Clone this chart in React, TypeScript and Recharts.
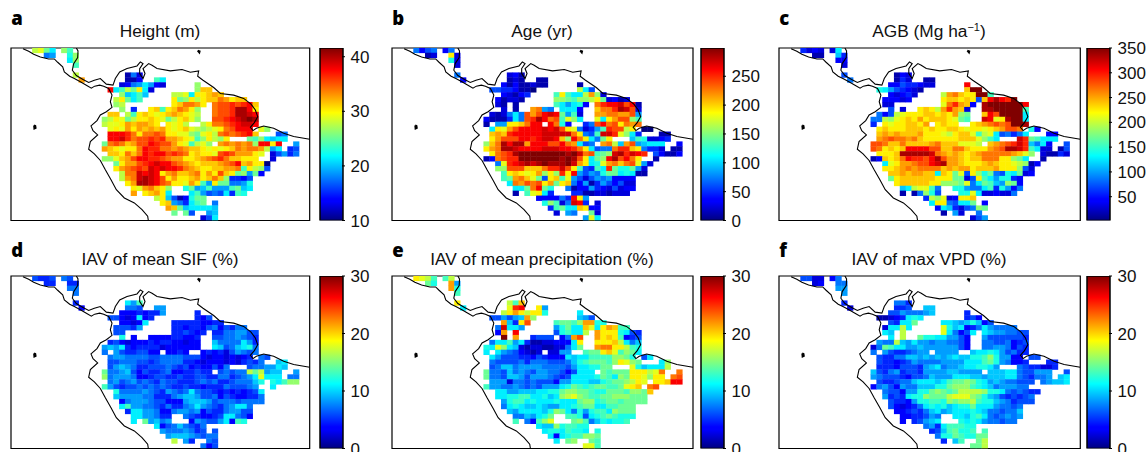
import React from "react";
import { ScatterChart, Scatter, XAxis, YAxis, ReferenceArea, BarChart, Bar } from "recharts";

// Rows of the grid, north to south. "col:letters": a = bottom of colour scale, z = top, . = no data
const heightRows = ["0:opmj 5:nl","2:gh 6:kn","6:j 7:n","7:l","","7:o 16:bgc","8:s 16:bbd 21:lj","15:cdghjhdc 28:n","13:wjlomqjc 28:nrr","15:nijli 24:oopjqqrsr","14:oqmjl 24:qmnqoqrrtsq 35:rr","14:no 24:qrttsq 31:tuuvuvwr","15:n 17:e 20:qrlqrtsqn 31:tuuvyywq","13:rr.olqrqpqrsrqpo 31:tuuvyyxw","12:noqpmoqqrqpmoqrpn 31:uuvwxyzy","12:oppqsrssrq 23:qpqo 29:oqttuvwxxw","13:pqpsqsrsrsqpqrponopqtuwww 39:pn","13:wwwvtqttutqqppnmpqotutuvwr 42:fg","13:wwxvtuuvuvssrqplnqonq 37:mlnjijj","12:mtutrsuuwvuusqplopn 32:stststnwwqw 45:h","12:srqpqqtwvvttstsrrqpqpqrtsttsohj 44:ef","13:rrqtrtwvwwuvutqrqqpuvusssqp 41:cfh 44:eg","12:nnprsuwwvvutssqqrstuvtrrqqq 41:c","14:mqssuvwxwwutsrqrrrstuwrsqqa","14:qstuvuxwxwwvtsrqqrrsstlqonf","15:ottxwxwqstrrstqsqurqmnhmd","15:ostxyxwuqsqqrsqrtrneedf","16:qsyyxwutqqpsqlhqmmgghk","17:qpstrqn 26:kmhilhhhlmij","17:s 19:qrsqj 27:jlhfgfjelk","21:oqifbdkmm","22:qrhgejlm 31:g","23:srmijjjji","24:m 26:mf 30:hi","29:cfj"];
const ageRows = ["0:gdfg 5:dg","2:bc 6:qc","6:kc","7:c","","7:g 16:cdb","8:d 16:bcb 21:bb","15:dbdbbcbb 28:b","13:ffeedbba 28:ojf","15:dcbde 24:lqljjosnc","14:dbccb 24:nnmlnnoqmcd 35:bc","14:cb 17:b 24:ljhjkd 31:tvwwxuwb","15:c 17:b 20:sthg.jjjd 31:rttvyxuc","13:cbcgjgusuwxwmhlc 31:ssttssuh","12:dbbbejguvywtulpnj 31:pjqsuunl","12:b.hhqqrtww 23:wtkd 29:eguwtuqtst","13:jqpsuwwwwxwxuqpgcehlvuuoq 39:aa","13:rsrvwwwwwxxxxxtqgflxxvpnje 42:bb","13:qsuuuwwvwxxwrnwtqjgmq 37:ilkccde","12:nrtywyyswwwuuwtsjfg 32:stoisuhijjj 45:d","12:qstyyxwwwwxxxwwvtqjfggtvvrqgeec 44:bb","13:qtuvyzzzzzzzzyzxtulmnxyvxwv 41:fdb 44:bd","12:bdtuvvzzzzzzzyzyuqjmnwyuwtq 41:b","14:gpvwxyxyzyyyzxsqjkpstrtuphc","14:nnuuurrrtvvxuqlfeljvmkkmhc","15:lqrqpqsnqnvqwhfhgkmmjkjbb","15:lmstrpmfqrlphfcfhghdddd","16:jtsutuqsmqrgdhbehfdfcc","17:jjmtwmk 26:gbddhedcfcdd","17:b 19:lpqje 27:eebbccbccc","21:ddddgewqh","22:knlcgxwe 31:c","23:elmjjrqdd","24:c 26:hg 30:mc","29:hpj"];
const agbRows = ["0:ecdc 5:cj","2:bb 6:ie","6:dd","7:c","","7:f 16:bdc","8:g 16:bec 21:bb","15:ddfeedcc 28:w","13:kjhfedcb 28:rzz","15:dcdec 24:ostrqqzzl","14:dddcd 24:qrrqrqfrwyw 35:vz","14:cc 24:ptvsrd 31:yzzzzzzw","15:f 17:c 20:qrqosvsrc 31:yyzzzzzl","13:gdfopqqqrrqrqsnm 31:rwuzzzzj","12:ggonpqrqsqrrrqpml 31:xwpqyzzj","12:e.qpqqrrqs 23:qrqq 29:qrstutuzzy","13:qrqqqrrrqrqqrrqpqqpqrsuut 39:kd","13:rsrsrrrsqqqpoqrrplopjfgegj 42:dd","13:stuttstrqqqqqqrrrpnlj 37:xvmljjj","12:uutrrtrrrrstrrrpppo 32:rstuvxvigjd 45:f","12:utqrqrwwwwuurrttrqqqstuyyxvljcc 44:bf","13:qqqryyyyyxtsrsrqrstttttsrpn 41:cbb 44:ec","12:bdrqrtwvvuwyussrqrrtttqqnmj 41:b","14:jpqsstuuwxyssrqqqrsrqqponbd","14:qqrststtttrsrssqrrrsqqqnfc","15:rrsrssrrjrqmpfqnkmgfkjmcd","15:mqrrrrrrqqqmmcfqljhkked","16:qrrrrrqqnnnmpgjmlihnmd","17:ijopplg 26:kkhggjlekhdg","17:b 19:bgnkf 27:kkpjccdccg","21:eonpcdqqr","22:jqqgfjjm 31:d","23:djiecfgnm","24:b 26:hc 30:g","29:cfh"];
const sifRows = ["0:feef 5:gf","2:ee 6:ee","6:gg","7:g","","7:e 16:jhl","8:d 16:ggf 21:hh","15:dddedeeh 28:e","13:ffdcdjde 28:edf","15:ddcdj 24:eeeeeddee","14:fffeh 24:eedeedfgdfe 35:gg","14:ff 24:eefede 31:eegghhff","15:k 17:d 20:ddddeedde 31:ffgghgfe","13:efdcdddedeeddcdd 31:iggggjhe","12:hihjedeeeecdddddd 31:jifgijkg","12:g.hfeeffdd 23:dded 29:dedecfhgfg","13:ghhggggffggggfffdcddcdcde 39:gf","13:ffgggffefggggeedcdddcdcefeg 42:ij","13:fhihgeefffgfefdeddfdg 37:fgghhji","12:mgghifdfeefgddeefee 32:fgfggomohii 45:h","12:nghhhgddeffeefeeffeeggefghjpjjj 44:gg","13:ghfghfgfegffeeefgfgeefgggik 41:kjl 44:nn","12:lhfeffgfgfgfeefeedeeegfffgh 41:j","14:kgggghgfehgfgjgffedededefj","14:ihhhhggeeeghiihffgdfeddeeg","15:dghhhgffdddhiiihfgggfgggg","15:jlhhggfegeeghjhgfeghjjg","16:ejjhhgddghhghdfeeghhff","17:jjhhgee 26:gfeddefjjgfd","17:j 19:mhigh 27:dhgffhjdlk","21:jdfgigfeg","22:hggghgef 31:f","23:hiiihgfgg","24:o 26:he 30:gf","29:gdf"];
const precipRows = ["0:qpol 5:lo","2:mk 6:sh","6:sk","7:l","","7:q 16:olr","8:j 16:pvw 21:qh","15:oqsqoqqk 28:j","13:ffhfhisn 28:ihf","15:siequ 24:lmmlnsskk","14:gxjjh 24:hkmjjrpjqsr 35:ll","14:ds 17:w 24:fkljjo 31:sqqqkjfe","15:z 17:s 20:efff.dgsu 31:sqrqldef","13:gjjlhjebbccdddjq 31:qqqrojgi","12:kjpnjicbccbbccgjm 31:sttqqolk","12:j.jhgfdcbc 23:cchh 29:lmmqrplnmj","13:jhfffeedfedddjijjllllnnmk 39:fj","13:gffffgegggfffgiklmmmlnqpnm 42:jn","13:fgiighhhhggggfhjjkkmm 37:pkijjjo","12:mggfighgfhhggfdfjjj 32:mlmmmqqqopt 45:t","12:mggfiihfhhhgfefjjjjkmljnmqqpnqq 44:tu","13:hhhcggfgfffdhhjjjiiklmmnoqp 41:qqr 44:ww","12:lhhgghgfgfhhhjkmlklmmllmpqr 40:tu","14:jjhhiiijjkkmnnmmlkkmmmlnnmr","14:jjkklljjkijnopnmllmmnnnmmm","15:hklljkjjjkjjjmnnklmmlmmmm","15:gjkjiijihhjjklmmjjllmmm","16:ihjjjjiknmjgkhklljnmmm","17:ggihjkm 26:llkfjklmlkkk","17:l 19:gdlnp 27:mnlgikjkkl","21:jiinkllkk","22:jkkjlkkj 31:k","23:jdjkllnnm","24:j 26:mn 30:ml","29:ppl"];
const vpdRows = ["0:ffcc 5:dg","2:cd 6:gg","6:hh","7:h","","7:e 16:gge","8:c 16:eef 21:ii","15:ffhggghi 28:e","13:bbcdejkj 28:efd","15:fejjm 24:jjihikidf","14:cjjjj 17:o 24:pkijdegjhgg 35:gg","14:ji 17:o 24:pjgdfj 31:jihhggff","15:j 17:o 20:mkkjjhhfd 31:hffffffe","13:hggoihjhhghhggfd 31:ggffgdef","12:cgmljjhhihhhhhhfd 31:gghhgdfe","12:g.hfeefghh 23:hhhh 29:ijjkjhfgee","13:feeggiihihihijiikklnkhhdd 39:ff","13:feedefhgggghhhhjjjlmkhgdde 42:ee","13:eeedfffehijghhijjkkjh 37:gfeecce","12:ifegheffehhhhiihhhh 32:iiijjgffhhh 45:f","12:hgfffedffgihhhjjjiihiiijjgfeggh 44:ij","13:feefggijjjijlmmnmkjhihggfff 41:ghi 44:ij","12:dghfdhggiiikkmnnnlkjighhhgg","14:gffdhhkkmnmlmoooonkkjgfgfee","14:hefejkknmmmopppnmkihfefefg","15:feedhkkllknmnnolkkihgefff","15:fdcdegjkjkijkkmjjjhggfg","16:ddefegijhijjjkjiggfggi","17:ddeefhg 26:jjikljgfghgh","17:d 19:efhij 27:kjkjhggfgg","21:ghejlllkk","22:efilmkkl 31:l","23:gkkmlkkmm","24:e 26:il 30:mo","29:mmo"];

const pacificCoast = [[68,145],[85,153],[100,162],[120,170],[145,176],[162,176],[172,186],[187,200],[192,215],[208,228],[222,235],[240,245],[258,255],[273,264],[283,258],[298,255],[310,258],[325,265],[335,285],[330,305],[335,322],[318,335],[300,345],[290,362],[272,378],[278,392],[292,405],[270,425],[265,448],[282,462],[300,482],[315,510],[332,540],[348,570],[372,595],[402,610],[425,630],[442,650],[444,663]];
const atlanticCoast = [[228,143],[233,152],[232,172],[220,190],[216,210],[228,226],[248,238],[265,247],[282,240],[300,235],[318,252],[338,255],[345,235],[358,215],[380,205],[410,197],[420,185],[428,190],[418,205],[418,220],[428,235],[434,220],[428,205],[445,190],[455,195],[470,205],[510,212],[545,208],[570,216],[595,212],[592,228],[608,240],[640,262],[660,280],[700,285],[730,295],[752,312],[765,330],[772,350],[762,368],[750,382],[758,392],[768,385],[790,378],[820,385],[850,400],[880,410],[928,418]];
const galapagos = [[101,376],[105,378],[106,384],[102,386],[101,376]];
const islet = [[592,151],[598,153],[597,157],[592,151]];

const LEFT = 32, RIGHT = 928, TOP = 143, BOTTOM = 663;
const GRID_X = 96, GRID_Y = 143, CELL_W = 17.4, CELL_H = 14.85;

const jetStops: [number, number[]][] = [[0,[0,0,128]],[0.11,[0,0,255]],[0.125,[0,0,255]],[0.375,[0,255,255]],[0.625,[255,255,0]],[0.875,[255,0,0]],[1,[128,0,0]]];
function jet(t: number) {
  for (let i = 1; i < jetStops.length; i++) {
    const [p1, c1] = jetStops[i];
    const [p0, c0] = jetStops[i - 1];
    if (t <= p1) {
      const k = (t - p0) / (p1 - p0);
      return `rgb(${c0.map((c, j) => Math.round(c + (c1[j] - c) * k)).join(",")})`;
    }
  }
  return "rgb(128,0,0)";
}

function cells(rows: string[], min: number, max: number) {
  const out: { x: number; y: number; value: number }[] = [];
  rows.forEach((row, r) => {
    row.split(" ").filter(Boolean).forEach((seg) => {
      const [start, letters] = seg.split(":");
      letters.split("").forEach((ch, i) => {
        if (ch === ".") return;
        const t = (ch.charCodeAt(0) - 97) / 25;
        out.push({
          x: GRID_X + (Number(start) + i + 0.5) * CELL_W,
          y: GRID_Y + (r + 0.5) * CELL_H,
          value: min + t * (max - min),
        });
      });
    });
  });
  return out;
}

const toPts = (a: number[][]) => a.map(([x, y]) => ({ x, y }));
const noDot = () => null;

function MapPanel({ left, top, w, h, rows, min, max }: any) {
  const pad = 2;
  const cw = (w * CELL_W) / (RIGHT - LEFT) + 0.4;
  const ch = (h * CELL_H) / (BOTTOM - TOP) + 0.4;
  const data = cells(rows, min, max);
  const shape = (p: any) => (
    <rect x={p.cx - cw / 2} y={p.cy - ch / 2} width={cw} height={ch} fill={jet((p.payload.value - min) / (max - min))} />
  );
  return (
    <div style={{ position: "absolute", left: left - pad, top: top - pad }}>
      <ScatterChart width={w + 2 * pad} height={h + 2 * pad} margin={{ top: pad, right: pad, bottom: pad, left: pad }}>
        <XAxis type="number" dataKey="x" domain={[LEFT, RIGHT]} hide allowDataOverflow />
        <YAxis type="number" dataKey="y" domain={[TOP, BOTTOM]} reversed hide allowDataOverflow />
        <Scatter data={data} shape={shape} isAnimationActive={false} />
        {[pacificCoast, atlanticCoast].map((c, i) => (
          <Scatter key={i} data={toPts(c)} line={{ stroke: "#000", strokeWidth: 1.1 }} shape={noDot} fill="none" isAnimationActive={false} />
        ))}
        {[galapagos, islet].map((c, i) => (
          <Scatter key={"i" + i} data={toPts(c)} line={{ stroke: "#000", strokeWidth: 1.8 }} shape={noDot} fill="none" isAnimationActive={false} />
        ))}
        <ReferenceArea x1={LEFT} x2={RIGHT} y1={TOP} y2={BOTTOM} fill="none" fillOpacity={0} stroke="#000" strokeWidth={1.2} ifOverflow="visible" />
      </ScatterChart>
    </div>
  );
}

function ColorBar({ id, left, top, w, h, min, max, ticks }: any) {
  const mt = 12, mb = 14, labelW = 44, pad = 1;
  const Tick = ({ x, y, payload }: any) => (
    <g>
      <line x1={x - 3} x2={x} y1={y} y2={y} stroke="#000" strokeWidth={1} />
      <text x={x + 5.5} y={y + 6} fontSize={17} fontFamily="Liberation Sans" fill="#111">{payload.value}</text>
    </g>
  );
  return (
    <div style={{ position: "absolute", left: left - pad, top: top - mt }}>
      <BarChart width={w + labelW + pad} height={h + mt + mb} data={[{ name: "scale", top: max }]} margin={{ top: mt, right: 0, bottom: mb, left: pad }} barCategoryGap={0}>
        <defs>
          <linearGradient id={id} x1="0" y1="1" x2="0" y2="0">
            {jetStops.map(([p, c]) => (
              <stop key={p} offset={p} stopColor={`rgb(${c.join(",")})`} />
            ))}
          </linearGradient>
        </defs>
        <XAxis dataKey="name" hide />
        <YAxis orientation="right" width={labelW} domain={[min, max]} ticks={ticks} tick={<Tick />} axisLine={false} tickLine={false} tickSize={0} interval={0} allowDataOverflow />
        <Bar dataKey="top" fill={`url(#${id})`} stroke="#000" strokeWidth={1.5} isAnimationActive={false} />
      </BarChart>
    </div>
  );
}

const heightTicks = [10, 20, 30, 40];
const ageTicks = [0, 50, 100, 150, 200, 250];
const agbTicks = [50, 100, 150, 200, 250, 300, 350];
const iavTicks = [0, 10, 20, 30];

const ROW1 = 48, ROW2 = 276, PH = 172.5;
const panels = [
  { id: "a", title: "Height (m)", x: 10.7, w: 298.7, bar: 320, y: ROW1, rows: heightRows, min: 10, max: 41.6, ticks: heightTicks },
  { id: "b", title: "Age (yr)", x: 391.7, w: 301, bar: 700.5, y: ROW1, rows: ageRows, min: 0, max: 299, ticks: ageTicks },
  { id: "c", title: "AGB", x: 778.7, w: 301.3, bar: 1087, y: ROW1, rows: agbRows, min: 2, max: 350, ticks: agbTicks },
  { id: "d", title: "IAV of mean SIF (%)", x: 10.7, w: 298.7, bar: 320, y: ROW2, rows: sifRows, min: 0, max: 30, ticks: iavTicks },
  { id: "e", title: "IAV of mean precipitation (%)", x: 391.7, w: 301, bar: 700.5, y: ROW2, rows: precipRows, min: 0, max: 30, ticks: iavTicks },
  { id: "f", title: "IAV of max VPD (%)", x: 778.7, w: 301.3, bar: 1087, y: ROW2, rows: vpdRows, min: 0, max: 30, ticks: iavTicks },
];
const titleX: Record<string, number> = { a: 160, b: 542, c: 929, d: 160, e: 542, f: 929 };

export default function App() {
  return (
    <div style={{ position: "absolute", left: 0, top: 0, width: 1148, height: 452, overflow: "hidden", background: "#fff" }}>
      {panels.map((p) => (
        <React.Fragment key={p.id}>
          <MapPanel left={p.x} top={p.y} w={p.w} h={PH} rows={p.rows} min={p.min} max={p.max} />
          <ColorBar id={"jet" + p.id} left={p.bar} top={p.y} w={23} h={PH} min={p.min} max={p.max} ticks={p.ticks} />
        </React.Fragment>
      ))}
      <svg width={1148} height={452} style={{ position: "absolute", left: 0, top: 0, pointerEvents: "none" }}>
        {panels.map((p) => (
          <g key={p.id}>
            <text x={p.x + 0.5} y={p.y < 100 ? 25 : 257} fontFamily="Open Sans" fontWeight={800} fontSize={18.5} fill="#000">{p.id}</text>
            <text x={titleX[p.id]} y={p.y < 100 ? 36.5 : 265} textAnchor="middle" fontFamily="Liberation Sans" fontSize={17.3} fill="#111">
              {p.title}
              {p.id === "c" && (
                <>
                  <tspan> (Mg ha</tspan>
                  <tspan dy={-6} fontSize={11}>−1</tspan>
                  <tspan dy={6}>)</tspan>
                </>
              )}
            </text>
          </g>
        ))}
      </svg>
    </div>
  );
}
